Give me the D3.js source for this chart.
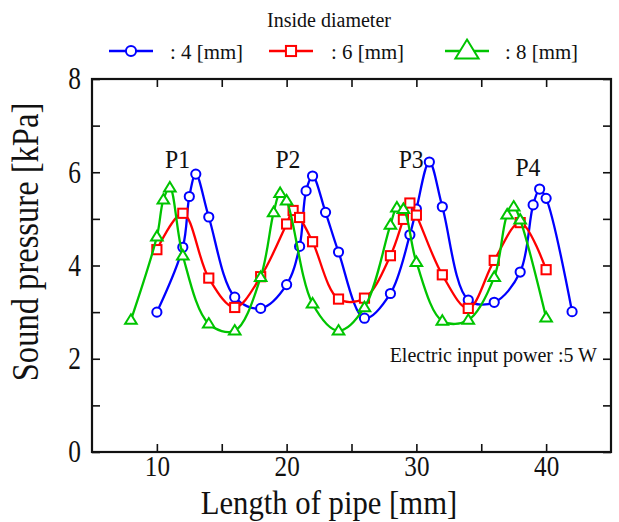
<!DOCTYPE html>
<html lang="en">
<head>
<meta charset="utf-8">
<title>Sound pressure vs length of pipe</title>
<script src="https://d3js.org/d3.v7.min.js"></script>
<style>
  body { margin: 0; background: #fff; }
  svg text { font-family: "Liberation Serif", "DejaVu Serif", serif; fill: #111; }
</style>
</head>
<body>
<svg id="chart" width="619" height="522"></svg>
<script>
// data
var blueX  = [10, 12, 12.5, 13, 14, 16, 18, 20, 21, 21.5, 22, 23, 24, 26, 28, 29.5, 30, 31, 32, 34, 36, 38, 39, 39.5, 40, 42];
var blueY  = [3.0, 4.39, 5.48, 5.96, 5.04, 3.32, 3.08, 3.59, 4.41, 5.6, 5.92, 5.14, 4.29, 2.87, 3.4, 4.66, 5.21, 6.22, 5.26, 3.26, 3.21, 3.86, 5.3, 5.64, 5.44, 3.01];
var redX   = [10, 12, 14, 16, 18, 20, 20.5, 21, 22, 24, 26, 28, 29, 29.5, 30, 32, 34, 36, 38, 40];
var redY   = [4.34, 5.12, 3.73, 3.10, 3.76, 4.89, 5.18, 5.03, 4.51, 3.28, 3.30, 4.21, 4.99, 5.34, 5.08, 3.80, 3.08, 4.11, 4.92, 3.91];
var greenX = [8, 10, 10.5, 11, 12, 14, 16, 18, 19, 19.5, 20, 22, 24, 26, 28, 28.5, 29, 30, 32, 34, 36, 37, 37.5, 38, 40];
var greenY = [2.83, 4.62, 5.41, 5.67, 4.21, 2.75, 2.60, 3.75, 5.14, 5.55, 5.39, 3.18, 2.60, 3.10, 4.87, 5.24, 5.21, 4.07, 2.81, 2.83, 3.75, 5.09, 5.26, 4.98, 2.88];

var seriesNames = ["4", "6", "8"];
var peakLabels = ["P1", "P2", "P3", "P4"];
var peakX = [11.6, 20.1, 29.6, 38.6];
var peakY = [6.1, 6.1, 6.1, 5.92];
var xTicks = [10, 15, 20, 25, 30, 35, 40];
var yTicks = [0, 1, 2, 3, 4, 5, 6, 7, 8];

var SERIF = "'Liberation Serif', 'DejaVu Serif', serif";

var svg = d3.select("#chart");
var x = d3.scaleLinear().domain([5, 45]).range([92, 611]);
var y = d3.scaleLinear().domain([0, 8]).range([452, 79]);

// little helper for (slightly squeezed) serif text
function label(txt, px, py, size, sx, anchor, rot) {
  return svg.append("text")
    .attr("transform", "translate(" + px + "," + py + ")" + (rot ? " rotate(" + rot + ")" : "") + " scale(" + sx + ",1)")
    .attr("font-family", SERIF)
    .attr("font-size", size)
    .attr("text-anchor", anchor || "start")
    .text(txt);
}

// axes, ticks pointing inward
var gx = svg.append("g").attr("transform", "translate(0," + y(0) + ")")
  .call(d3.axisBottom(x).tickValues(xTicks).tickSize(-8).tickPadding(3)
    .tickFormat(function(d) { return d % 10 === 0 ? d : ""; }));
var gxt = svg.append("g").attr("transform", "translate(0," + y(8) + ")")
  .call(d3.axisTop(x).tickValues(xTicks).tickSize(-8).tickFormat(""));
var gy = svg.append("g").attr("transform", "translate(" + x(5) + ",0)")
  .call(d3.axisLeft(y).tickValues(yTicks).tickSize(-8).tickPadding(10)
    .tickFormat(function(d) { return d % 2 === 0 ? d : ""; }));
var gyr = svg.append("g").attr("transform", "translate(" + x(45) + ",0)")
  .call(d3.axisRight(y).tickValues(yTicks).tickSize(-8).tickFormat(""));

[gx, gxt, gy, gyr].forEach(function(g) {
  g.attr("font-family", SERIF);
  g.select(".domain").remove();
  g.selectAll(".tick line").attr("stroke", "#111").attr("stroke-width", 1.6);
  g.selectAll("text").attr("font-family", SERIF).attr("font-size", 31).attr("fill", "#111");
});
gx.selectAll("text").attr("font-size", 30).attr("transform", "scale(0.84,1)");
gy.selectAll("text").attr("transform", "scale(0.82,1)").attr("x", -11 / 0.82);

svg.append("rect")
  .attr("x", x(5)).attr("y", y(8))
  .attr("width", x(45) - x(5)).attr("height", y(0) - y(8))
  .attr("fill", "none").attr("stroke", "#111").attr("stroke-width", 2.2);

// series
var series = [
  { xs: blueX, ys: blueY, color: "#0000ff", shape: "circle" },
  { xs: redX, ys: redY, color: "#ff0000", shape: "square" },
  { xs: greenX, ys: greenY, color: "#00c400", shape: "triangle" }
];

var line = d3.line().curve(d3.curveCatmullRom.alpha(0.5))
  .x(function(d) { return x(d[0]); })
  .y(function(d) { return y(d[1]); });

function marker(g, shape, color, cx, cy, s) {
  if (shape === "circle") {
    g.append("circle").attr("cx", cx).attr("cy", cy).attr("r", 4.6 * s)
      .attr("fill", "#fff").attr("stroke", color).attr("stroke-width", 2);
  } else if (shape === "square") {
    g.append("rect").attr("x", cx - 4.6 * s).attr("y", cy - 4.6 * s)
      .attr("width", 9.2 * s).attr("height", 9.2 * s)
      .attr("fill", "#fff").attr("stroke", color).attr("stroke-width", 2);
  } else {
    var h = 9.5 * s, w = 5.8 * s;
    g.append("path")
      .attr("d", "M" + cx + "," + (cy - h * 0.6) + "L" + (cx + w) + "," + (cy + h * 0.4) + "L" + (cx - w) + "," + (cy + h * 0.4) + "Z")
      .attr("fill", "#fff").attr("stroke", color).attr("stroke-width", 2);
  }
}

series.forEach(function(s) {
  var pts = s.xs.map(function(v, i) { return [v, s.ys[i]]; });
  var g = svg.append("g");
  g.append("path").attr("d", line(pts))
    .attr("fill", "none").attr("stroke", s.color).attr("stroke-width", 2.3);
  pts.forEach(function(p) { marker(g, s.shape, s.color, x(p[0]), y(p[1]), 1); });
});

// peak labels
peakLabels.forEach(function(t, i) {
  label(t, x(peakX[i]), y(peakY[i]), 25, 0.95, "middle");
});

label("Electric input power  :5 W", 597, 362, 20, 1, "end");

// axis titles
label("Length of pipe [mm]", 329, 514, 33, 0.93, "middle");
label("Sound pressure [kPa]", 38, 242, 37, 0.88, "middle", -90);

// legend
label("Inside diameter", 329, 27, 20, 1, "middle");
var legX = [131, 291, 467];
var legTextX = [170, 331, 505];
series.forEach(function(s, i) {
  svg.append("line")
    .attr("x1", legX[i] - 22).attr("x2", legX[i] + 22)
    .attr("y1", 51).attr("y2", 51)
    .attr("stroke", s.color).attr("stroke-width", 2.3);
  marker(svg, s.shape, s.color, legX[i], 51, s.shape === "triangle" ? 2 : 1.1);
  label(":  " + seriesNames[i] + " [mm]", legTextX[i], 59, 22, 0.95, "start");
});
</script>
</body>
</html>
